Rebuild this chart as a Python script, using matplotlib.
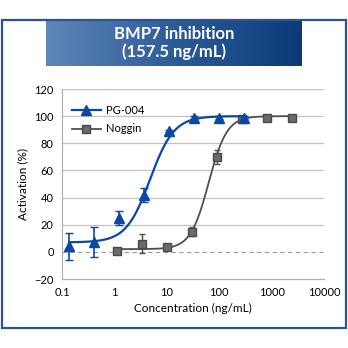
import numpy as np
import matplotlib.pyplot as plt
from matplotlib.patches import Rectangle
from matplotlib.markers import MarkerStyle
from matplotlib.path import Path

plt.rcParams['font.family'] = ['Lato', 'DejaVu Sans']

# Measured points (concentration in ng/mL, activation in %)
pg_conc = [0.137, 0.41, 1.23, 3.7, 11.1, 33.3, 100, 300]
pg_act = [4, 7, 25, 42, 89, 99, 99, 99]
pg_err = [10, 11, 5, 5, 1, 1, 1, 1]

nog_conc = [1.11, 3.33, 10, 30, 90, 270, 810, 2430]
nog_act = [1, 6, 3.5, 15, 70, 98, 99, 99]
nog_err = [0.5, 7, 1, 3, 5, 1, 1, 1]

# 4-parameter logistic fit parameters: bottom, top, EC50, hill
pg_fit = (7, 100, 4.8, 1.9)
nog_fit = (2, 100, 63, 2.5)

x_ticks = [0.1, 1, 10, 100, 1000, 10000]
x_labels = ['0.1', '1', '10', '100', '1000', '10000']
y_ticks = [-20, 0, 20, 40, 60, 80, 100, 120]


def four_pl(x, bottom, top, ec50, hill):
    return bottom + (top - bottom) / (1 + (ec50 / x) ** hill)


blue = '#0b47a5'
gray = '#4f4f4f'
grid_c = '#c4c4c4'

fig = plt.figure(figsize=(3.48, 3.48), dpi=100)

# outer frame
fig.patches.append(Rectangle((2 / 348, 1 - 328 / 348), 344 / 348, 308 / 348,
                             transform=fig.transFigure, fill=False,
                             edgecolor='#2a5590', lw=1.6))

# title banner with horizontal gradient
tax = fig.add_axes([46 / 348, 1 - 66 / 348, 256 / 348, 46 / 348])
grad = np.linspace(0, 1, 256).reshape(1, -1)
from matplotlib.colors import LinearSegmentedColormap
cmap = LinearSegmentedColormap.from_list('banner', ['#5f86b6', '#2c5c98', '#0a3a78'])
tax.imshow(grad, aspect='auto', cmap=cmap, extent=[0, 1, 0, 1])
tax.set_xlim(0, 1)
tax.set_ylim(0, 1)
tax.axis('off')
tax.text(0.5, 0.5, 'BMP7 inhibition\n(157.5 ng/mL)', color='white', fontsize=12,
         fontweight='bold', ha='center', va='center', linespacing=1.05)

ax = fig.add_axes([62 / 348, 1 - 279 / 348, 262 / 348, 190 / 348])
ax.set_xscale('log')
ax.set_xlim(0.1, 10000)
ax.set_ylim(-20, 120)

for y in y_ticks[2:]:
    ax.axhline(y, color=grid_c, lw=0.9, zorder=0)
ax.axhline(0, color='#9a9a9a', lw=0.8, ls=(0, (4, 3)), zorder=0)

# fitted curves
xs = np.logspace(np.log10(pg_conc[0]), np.log10(pg_conc[-1]), 300)
ax.plot(xs, four_pl(xs, *pg_fit), color=blue, lw=1.6, zorder=3)
xs = np.logspace(np.log10(nog_conc[0]), np.log10(nog_conc[-1]), 300)
ax.plot(xs, four_pl(xs, *nog_fit), color=gray, lw=1.3, zorder=2)

ax.errorbar(nog_conc, nog_act, yerr=nog_err, fmt='s', color='#6a6a6a',
            mec='#4a4a4a', ms=5.5, ecolor=gray, elinewidth=1, capsize=2.5, zorder=2)
ax.errorbar(pg_conc, pg_act, yerr=pg_err, fmt='^', color=blue, ms=6.5,
            ecolor=blue, elinewidth=1.2, capsize=3, zorder=4)

# legend handles
ax.plot([], [], color=blue, lw=1.6, marker='^', ms=6.5, label='PG-004')
ax.plot([], [], color=gray, lw=1.3, marker='s', ms=5.5, mfc='#6a6a6a',
        mec='#4a4a4a', label='Noggin')
handles, labels = ax.get_legend_handles_labels()
ax.legend(handles[-2:], labels[-2:], loc='upper left', frameon=False, fontsize=8,
          bbox_to_anchor=(0.0, 0.97), handlelength=2.6, handletextpad=0.5,
          labelspacing=0.7)

for s in ['top', 'right']:
    ax.spines[s].set_visible(False)
for s in ['left', 'bottom']:
    ax.spines[s].set_color('#b0b0b0')
    ax.spines[s].set_linewidth(0.9)

ax.set_xticks(x_ticks)
ax.set_xticklabels(x_labels)
ax.minorticks_off()
ax.set_yticks(y_ticks)
ax.tick_params(labelsize=8, pad=2, length=0)

# triangular tick marks
left_tri = MarkerStyle(Path([(-1, -0.55), (0, 0), (-1, 0.55), (-1, -0.55)]))
up_tri = MarkerStyle(Path([(-0.55, -1), (0, 0), (0.55, -1), (-0.55, -1)]))
for t in ax.yaxis.get_major_ticks():
    t.tick1line.set_marker(left_tri)
    t.tick1line.set_markersize(10)
    t.tick1line.set_markerfacecolor('#b4b4b4')
    t.tick1line.set_markeredgewidth(0)
for t in ax.xaxis.get_major_ticks():
    t.tick1line.set_marker(up_tri)
    t.tick1line.set_markersize(10)
    t.tick1line.set_markerfacecolor('#b4b4b4')
    t.tick1line.set_markeredgewidth(0)
ax.tick_params(axis='y', pad=6)
ax.tick_params(axis='x', pad=6)

ax.set_xlabel('Concentration (ng/mL)', fontsize=8.5, labelpad=3)
ax.set_ylabel('Activation (%)', fontsize=8.5, labelpad=4)

fig.savefig('out.png', dpi=100)
